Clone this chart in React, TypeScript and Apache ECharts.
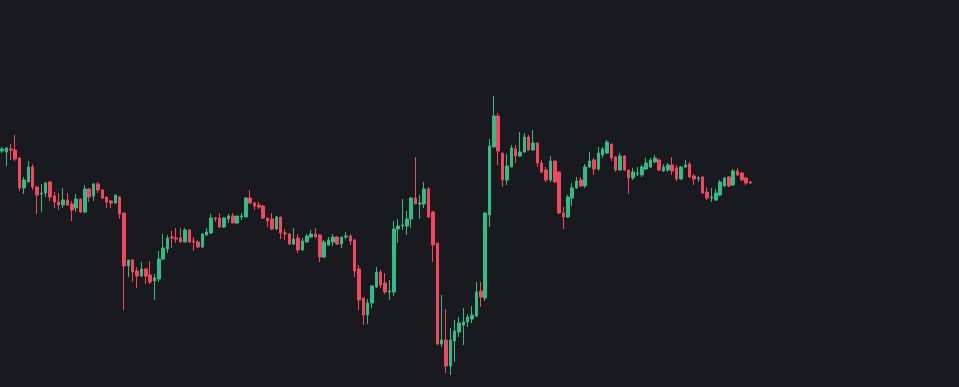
import React, { useEffect, useRef } from "react";
import * as echarts from "echarts";

// OHLC values (price units, higher = up)
const opens = [
  249, 248, 251, 250, 242, 212, 218, 233, 213, 206, 207, 218, 204, 198, 195, 200, 196, 192, 201, 188,
  211, 204, 216, 210, 203, 199, 197, 203, 187, 134, 140, 129, 124, 131, 125, 119, 121, 141, 151, 163,
  162, 162, 158, 170, 159, 158, 153, 165, 167, 182, 182, 173, 181, 184, 177, 183, 183, 202, 197, 195,
  194, 182, 181, 171, 183, 167, 166, 156, 162, 150, 158, 163, 166, 165, 143, 155, 158, 163, 156, 163,
  164, 160, 131, 102, 85, 97, 113, 128, 117, 108, 108, 171, 174, 174, 181, 202, 196, 196, 211, 188,
  157, 56, 60, 34, 59, 68, 75, 78, 81, 84, 109, 102, 185, 253, 284, 247, 220, 233, 251, 244,
  248, 263, 250, 257, 237, 230, 220, 239, 228, 187, 183, 202, 212, 220, 214, 233, 240, 231, 245, 247,
  256, 243, 230, 244, 230, 222, 226, 225, 231, 233, 238, 240, 229, 230, 235, 232, 221, 233, 236, 224,
  221, 223, 208, 202, 200, 205, 214, 223, 215, 229, 227, 222, 218,
];
const closes = [
  251, 252, 250, 241, 212, 220, 233, 213, 205, 207, 217, 203, 198, 195, 200, 195, 190, 201, 188, 211,
  203, 216, 210, 202, 198, 197, 205, 186, 134, 140, 128, 124, 131, 124, 118, 122, 141, 152, 162, 162,
  161, 158, 170, 158, 158, 153, 166, 168, 182, 181, 173, 182, 184, 177, 184, 184, 202, 197, 194, 193,
  182, 179, 171, 183, 167, 166, 156, 161, 150, 159, 164, 166, 163, 143, 158, 160, 163, 156, 163, 164,
  159, 129, 100, 85, 97, 114, 128, 115, 108, 109, 171, 174, 175, 181, 202, 196, 197, 211, 183, 155,
  56, 60, 34, 60, 69, 77, 78, 83, 85, 108, 103, 187, 254, 284, 249, 220, 234, 252, 244, 248,
  263, 250, 257, 237, 228, 220, 239, 218, 187, 183, 203, 212, 219, 214, 233, 239, 231, 247, 251, 258,
  242, 230, 244, 230, 222, 228, 227, 233, 237, 240, 242, 230, 233, 235, 229, 221, 233, 235, 223, 221,
  222, 207, 202, 203, 207, 218, 222, 214, 229, 225, 220, 217, 217,
];
const lows = [
  247, 234, 240, 239, 209, 206, 218, 210, 186, 188, 203, 199, 192, 190, 192, 194, 179, 188, 187, 187,
  198, 199, 207, 201, 192, 192, 196, 181, 90, 123, 118, 112, 123, 116, 116, 100, 118, 140, 147, 152,
  157, 157, 158, 157, 149, 152, 152, 164, 166, 178, 172, 172, 177, 177, 176, 180, 183, 196, 190, 191,
  181, 173, 170, 170, 161, 160, 155, 155, 147, 149, 158, 162, 162, 138, 142, 154, 154, 155, 152, 161,
  155, 123, 90, 75, 76, 92, 112, 112, 106, 100, 104, 157, 170, 165, 172, 196, 181, 192, 182, 138,
  55, 53, 27, 25, 38, 63, 55, 73, 77, 83, 93, 99, 173, 253, 235, 213, 215, 233, 237, 243,
  247, 249, 249, 233, 227, 218, 218, 217, 186, 171, 182, 194, 211, 213, 212, 232, 225, 229, 242, 246,
  239, 228, 229, 229, 206, 220, 224, 223, 230, 232, 237, 229, 228, 228, 225, 219, 220, 232, 222, 215,
  218, 206, 200, 198, 199, 204, 213, 213, 214, 224, 219, 215, 216,
];
const highs = [
  253, 253, 256, 265, 243, 223, 239, 236, 214, 216, 218, 219, 208, 207, 212, 207, 199, 206, 201, 215,
  212, 217, 218, 211, 203, 200, 205, 204, 187, 140, 141, 133, 138, 132, 139, 126, 149, 166, 165, 169,
  172, 172, 172, 171, 163, 160, 167, 172, 186, 183, 187, 183, 186, 187, 184, 187, 203, 210, 198, 198,
  195, 182, 187, 184, 183, 171, 167, 172, 166, 162, 166, 170, 172, 166, 160, 163, 166, 164, 163, 168,
  166, 161, 135, 102, 101, 115, 133, 130, 127, 120, 179, 181, 201, 189, 203, 243, 205, 218, 213, 189,
  157, 105, 91, 72, 80, 83, 92, 86, 94, 118, 118, 188, 261, 304, 287, 247, 246, 255, 255, 268,
  267, 265, 270, 257, 240, 233, 244, 239, 228, 193, 205, 217, 223, 223, 236, 248, 242, 253, 253, 260,
  256, 244, 247, 245, 230, 232, 233, 235, 242, 242, 245, 241, 236, 237, 243, 235, 234, 240, 238, 226,
  224, 224, 213, 212, 211, 220, 223, 224, 231, 232, 228, 223, 219,
];
const categories = opens.map((_, i) => String(i + 1));

const BG = "#181a20";
const UP = "#2ebd85";
const DOWN = "#f6465d";

export default function App() {
  const ref = useRef<HTMLDivElement>(null);
  useEffect(() => {
    document.body.style.margin = "0";
    document.body.style.background = BG;
    const chart = echarts.init(ref.current!, null, { renderer: "svg" });
    const data = opens.map((o, i) => [o, closes[i], lows[i], highs[i]]);
    chart.setOption({
      animation: false,
      backgroundColor: BG,
      grid: { left: -3.26, top: 0, width: 756, height: 387 },
      xAxis: {
        type: "category",
        data: categories,
        boundaryGap: true,
        show: false,
      },
      yAxis: {
        type: "value",
        min: 13,
        max: 400,
        show: false,
        splitLine: { show: false },
      },
      series: [
        {
          type: "candlestick",
          data,
          barWidth: 3,
          itemStyle: {
            color: UP,
            color0: DOWN,
            borderColor: UP,
            borderColor0: DOWN,
            borderWidth: 1,
          },
        },
      ],
    });
    return () => chart.dispose();
  }, []);
  return (
    <div
      ref={ref}
      style={{ position: "fixed", left: 0, top: 0, width: 959, height: 387, background: BG }}
    />
  );
}
